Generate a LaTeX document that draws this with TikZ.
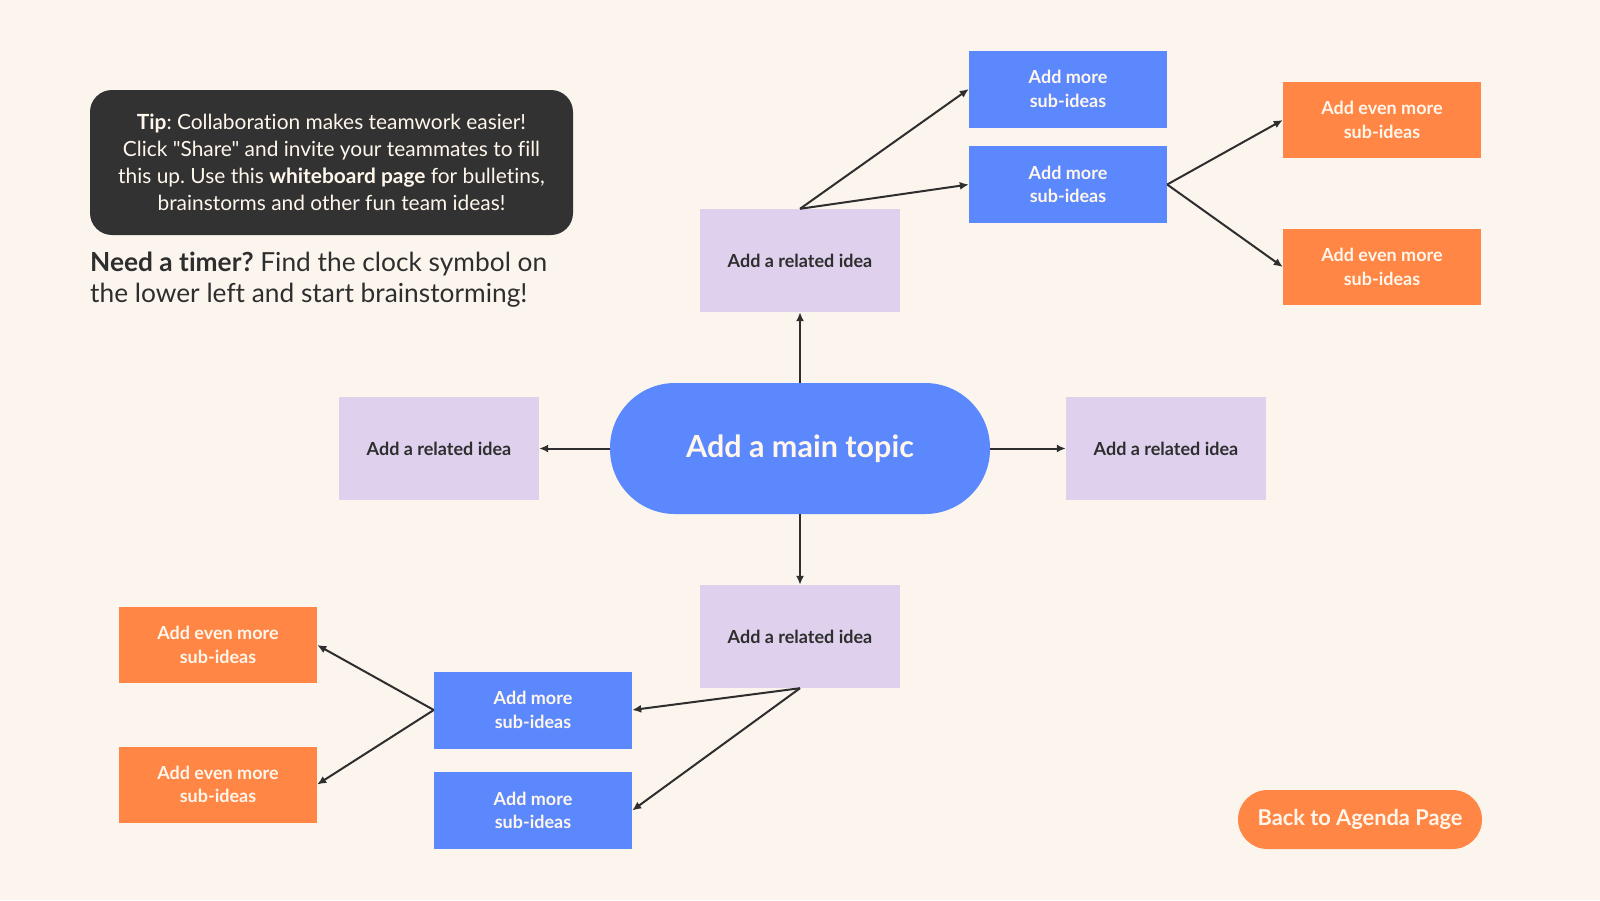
\documentclass[tikz,border=0pt]{standalone}
\usepackage{fontspec}
\setmainfont[Ligatures={NoCommon,TeXOff}]{Lato}
\usetikzlibrary{arrows.meta}
\frenchspacing
\definecolor{bg}{HTML}{FBF5EE}
\definecolor{bluebox}{HTML}{5B88FC}
\definecolor{lavbox}{HTML}{DFD1EE}
\definecolor{orangebox}{HTML}{FF8645}
\definecolor{darkbox}{HTML}{323232}
\definecolor{ink}{HTML}{2E2E2E}
\definecolor{cream}{HTML}{FFF6EC}
\tikzset{
  relbox/.style={fill=lavbox, minimum width=200pt, minimum height=103pt, inner sep=0pt, text=ink, font=\fontsize{18}{23.5}\selectfont\bfseries},
  subbox/.style={fill=bluebox, minimum width=198pt, minimum height=77pt, inner sep=0pt, text=cream, align=center, font=\fontsize{18}{23.5}\selectfont\bfseries},
  evenbox/.style={fill=orangebox, minimum width=198pt, minimum height=76pt, inner sep=0pt, text=cream, align=center, font=\fontsize{18}{23.5}\selectfont\bfseries},
  conn/.style={draw=ink, line width=2pt, -{Latex[length=9pt,width=8pt]}}
}
\begin{document}
\begin{tikzpicture}[x=1pt,y=-1pt]
\fill[bg] (0,0) rectangle (1600,900);
\useasboundingbox (0,0) rectangle (1600,900);

% tip box
\node[fill=darkbox, rounded corners=22pt, minimum width=483pt, minimum height=145pt, inner sep=0pt, text=cream, align=center, font=\fontsize{20.9}{27}\selectfont] (tip) at (331.5,162.5)
  {\textbf{Tip}: Collaboration makes teamwork easier!\\Click "Share" and invite your teammates to fill\\this up. Use this \textbf{whiteboard page} for bulletins,\\brainstorms and other fun team ideas!};

\node[anchor=west, align=left, inner sep=0pt, text=ink, font=\fontsize{26.3}{31}\selectfont] (timer) at (90,280)
  {\textbf{Need a timer?} Find the clock symbol on\\the lower left and start brainstorming!};

% main topic
\node[fill=bluebox, rounded corners=65pt, minimum width=380pt, minimum height=131pt, inner sep=0pt, text=cream, font=\fontsize{30.5}{34}\selectfont\bfseries] (main) at (800,448.5) {Add a main topic};

% related ideas
\node[relbox] (rt) at (800,260.5) {Add a related idea};
\node[relbox] (rl) at (439,448.5) {Add a related idea};
\node[relbox] (rr) at (1166,448.5) {Add a related idea};
\node[relbox] (rb) at (800,636.5) {Add a related idea};

% sub ideas top
\node[subbox] (st1) at (1068,89) {Add more\\sub-ideas};
\node[subbox] (st2) at (1068,184.5) {Add more\\sub-ideas};
% sub ideas bottom
\node[subbox] (sb1) at (533,710) {Add more\\sub-ideas};
\node[subbox] (sb2) at (533,810.5) {Add more\\sub-ideas};

% even more
\node[evenbox] (et1) at (1382,120) {Add even more\\sub-ideas};
\node[evenbox] (et2) at (1382,267) {Add even more\\sub-ideas};
\node[evenbox] (el1) at (218,645) {Add even more\\sub-ideas};
\node[evenbox] (el2) at (218,784.5) {Add even more\\sub-ideas};

% back button
\node[fill=orangebox, rounded corners=29.5pt, minimum width=244pt, minimum height=59pt, inner sep=0pt, text=cream, font=\fontsize{21.8}{25}\selectfont\bfseries] (back) at (1360,819.5) {Back to Agenda Page};

% connectors
\draw[conn] (main.north) -- (rt.south);
\draw[conn] (main.west) -- (rl.east);
\draw[conn] (main.east) -- (rr.west);
\draw[conn] (main.south) -- (rb.north);
\draw[conn] (rt.north) -- (st1.west);
\draw[conn] (rt.north) -- (st2.west);
\draw[conn] (st2.east) -- (et1.west);
\draw[conn] (st2.east) -- (et2.west);
\draw[conn] (rb.south) -- (sb1.east);
\draw[conn] (rb.south) -- (sb2.east);
\draw[conn] (sb1.west) -- (el1.east);
\draw[conn] (sb1.west) -- (el2.east);
\end{tikzpicture}
\end{document}
